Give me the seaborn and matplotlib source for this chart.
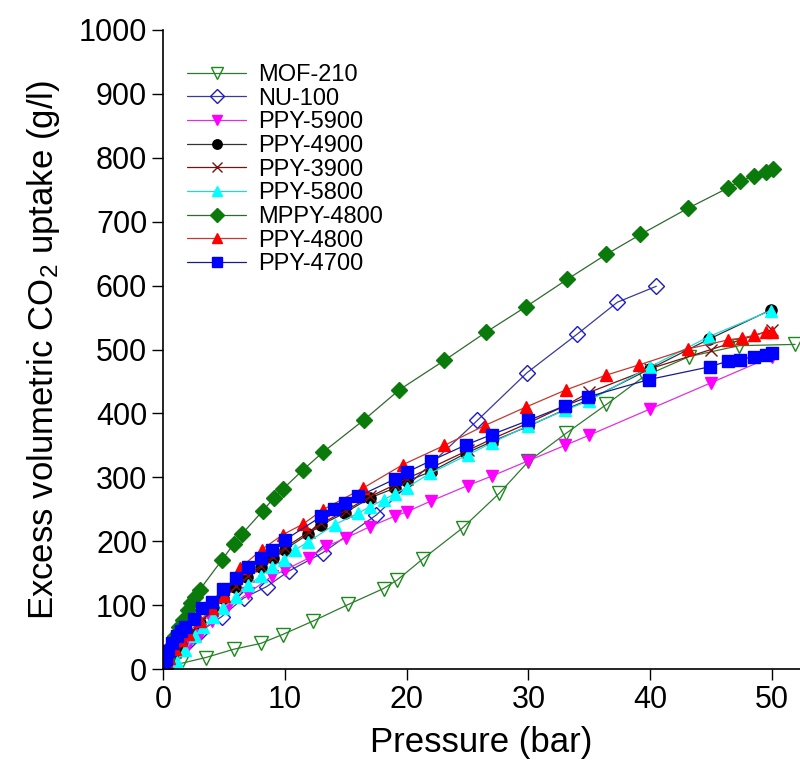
import pandas as pd
import seaborn as sns
import matplotlib.pyplot as plt

# CO2 uptake data (pressure in bar, uptake in g/l)
mof210_p = [0.3, 1.5, 3.5, 5.8, 8.0, 9.8, 12.3, 15.2, 18.1, 19.2, 21.3, 24.6, 27.6, 30.0, 33.1, 36.4, 39.5, 43.2, 47.3, 51.9]
mof210_u = [2, 9, 18, 31, 40, 54, 75, 101, 126, 139, 172, 221, 275, 325, 369, 414, 458, 489, 506, 508]

nu100_p = [0.1, 0.5, 1.0, 2.0, 3.0, 4.8, 6.6, 8.5, 10.3, 13.1, 17.5, 25.8, 29.9, 34.0, 37.3, 40.5]
nu100_u = [2, 12, 24, 42, 58, 82, 111, 129, 153, 182, 241, 389, 464, 524, 574, 599]

ppy5900_p = [0.1, 0.5, 1.0, 2.0, 3.0, 4.0, 5.2, 7.0, 8.9, 10.0, 12.0, 13.4, 15.0, 17.0, 19.0, 20.0, 22.0, 25.0, 27.0, 30.0, 33.0, 35.0, 40.0, 45.0, 50.0]
ppy5900_u = [2, 10, 20, 38, 55, 75, 95, 119, 145, 155, 174, 192, 205, 223, 239, 246, 263, 287, 302, 326, 350, 366, 407, 448, 489]

ppy4900_p = [0.1, 0.5, 1.0, 1.5, 2.2, 3.0, 4.1, 4.9, 5.9, 6.9, 8.0, 9.0, 10.0, 11.9, 13.0, 14.9, 17.0, 19.0, 20.0, 22.0, 24.9, 27.0, 30.0, 33.0, 35.0, 40.0, 44.8, 49.9]
ppy4900_u = [3, 12, 25, 38, 55, 72, 95, 111, 128, 144, 159, 173, 187, 211, 226, 244, 268, 283, 294, 309, 338, 356, 380, 406, 422, 470, 516, 562]

ppy3900_p = [0.1, 0.5, 1.0, 2.0, 3.0, 4.0, 5.0, 6.0, 7.0, 8.0, 9.0, 10.0, 12.0, 13.0, 15.0, 17.0, 19.0, 20.0, 22.0, 25.0, 27.0, 30.0, 33.0, 35.0, 40.0, 45.0, 50.0]
ppy3900_u = [3, 13, 27, 50, 72, 93, 112, 130, 146, 162, 176, 190, 215, 228, 248, 270, 288, 298, 315, 342, 360, 385, 412, 433, 470, 500, 531]

ppy5800_p = [0.2, 1.1, 1.8, 2.6, 3.3, 4.1, 4.9, 6.0, 7.0, 8.0, 8.9, 9.9, 10.8, 11.9, 14.1, 16.0, 17.0, 18.1, 19.0, 20.0, 21.9, 25.0, 27.0, 30.0, 33.0, 35.0, 40.0, 44.8, 49.9]
ppy5800_u = [2, 11, 30, 51, 66, 82, 95, 113, 132, 145, 159, 171, 186, 199, 226, 244, 254, 265, 274, 284, 306, 335, 354, 381, 405, 420, 473, 520, 561]

mppy4800_p = [0.05, 0.1, 0.2, 0.3, 0.5, 0.7, 1.0, 1.3, 1.6, 2.0, 2.3, 2.6, 3.0, 4.8, 5.8, 6.5, 8.2, 9.1, 9.8, 11.5, 13.1, 16.5, 19.4, 23.1, 26.5, 29.8, 33.2, 36.4, 39.2, 43.1, 46.4, 47.4, 48.5, 49.5, 50.1]
mppy4800_u = [3, 6, 12, 18, 28, 38, 52, 65, 77, 92, 103, 113, 124, 170, 196, 212, 248, 268, 281, 312, 339, 390, 437, 483, 527, 567, 610, 649, 680, 721, 753, 764, 771, 778, 782]

ppy4800_p = [0.1, 0.3, 0.5, 1.0, 1.5, 2.0, 3.0, 4.0, 5.0, 6.3, 8.1, 9.8, 11.5, 13.1, 16.4, 19.7, 23.1, 26.4, 29.8, 33.1, 36.4, 39.1, 43.1, 46.4, 47.5, 48.5, 49.5, 50.0]
ppy4800_u = [3, 10, 17, 32, 45, 55, 75, 95, 115, 158, 187, 210, 227, 249, 283, 320, 350, 381, 410, 437, 460, 476, 501, 515, 518, 522, 527, 527]

ppy4700_p = [0.05, 0.2, 0.4, 0.7, 1.1, 1.5, 1.8, 2.5, 3.2, 4.0, 4.9, 6.0, 7.0, 8.0, 8.9, 10.0, 13.0, 14.0, 14.9, 16.0, 19.0, 20.0, 22.0, 24.9, 27.0, 30.0, 33.0, 34.9, 39.9, 44.9, 46.4, 47.4, 48.5, 49.5, 50.0]
ppy4700_u = [5, 15, 28, 40, 51, 60, 66, 79, 95, 105, 125, 142, 159, 173, 187, 202, 239, 250, 260, 270, 297, 308, 326, 351, 367, 389, 412, 426, 453, 473, 482, 484, 489, 492, 494]

# name, pressure, uptake, line colour, marker, face colour, edge colour, marker size
series = [
    ('MOF-210', mof210_p, mof210_u, '#2f7a2f', 'v', 'none', '#1a8a1a', 10),
    ('NU-100', nu100_p, nu100_u, '#3a3a9a', 'D', 'none', '#1a1acc', 8),
    ('PPY-5900', ppy5900_p, ppy5900_u, '#e030e0', 'v', '#ff00ff', '#ff00ff', 9),
    ('PPY-4900', ppy4900_p, ppy4900_u, '#333333', 'o', 'black', 'black', 8),
    ('PPY-3900', ppy3900_p, ppy3900_u, '#7a1010', 'x', '#7a1010', '#7a1010', 8),
    ('PPY-5800', ppy5800_p, ppy5800_u, '#20d8d8', '^', '#00ffff', '#00ffff', 9),
    ('MPPY-4800', mppy4800_p, mppy4800_u, '#2f6a2f', 'D', '#0a7a0a', '#0a7a0a', 8),
    ('PPY-4800', ppy4800_p, ppy4800_u, '#c03a30', '^', '#ff0000', '#ff0000', 9),
    ('PPY-4700', ppy4700_p, ppy4700_u, '#1a1a90', 's', '#0000ff', '#0000ff', 9),
]

sns.set_style('ticks')
plt.rcParams['font.family'] = ['Liberation Sans', 'DejaVu Sans']
plt.rcParams['mathtext.default'] = 'regular'
plt.rcParams['text.color'] = 'black'
plt.rcParams['axes.labelcolor'] = 'black'
plt.rcParams['xtick.color'] = 'black'
plt.rcParams['ytick.color'] = 'black'
plt.rcParams['axes.edgecolor'] = 'black'

fig = plt.figure(figsize=(8, 7.69), dpi=100)
ax = fig.add_axes([0.204, 0.130, 0.796, 0.831])

for name, p, u, lc, mk, fc, ec, ms in series:
    df = pd.DataFrame({'p': p, 'u': u})
    sns.lineplot(data=df, x='p', y='u', ax=ax, sort=False, color=lc, linewidth=0.9,
                 marker=mk, markersize=ms, markerfacecolor=fc, markeredgecolor=ec,
                 markeredgewidth=1.0, label=name)

ax.set_xlim(0, 52.3)
ax.set_ylim(0, 1000)
ax.set_xticks([0, 10, 20, 30, 40, 50])
ax.set_yticks(range(0, 1001, 100))
ax.tick_params(labelsize=22, length=8, width=1, direction='out')
ax.spines['top'].set_visible(False)
ax.spines['right'].set_visible(False)
ax.spines['left'].set_linewidth(1.2)
ax.spines['bottom'].set_linewidth(1.2)
ax.set_xlabel('Pressure (bar)', fontsize=25, labelpad=8)
ax.set_ylabel('Excess volumetric CO$_2$ uptake (g/l)', fontsize=25, labelpad=12)

ax.legend(loc='upper left', bbox_to_anchor=(0.004, 0.98), frameon=False, fontsize=17,
          handlelength=2.5, labelspacing=0.07, markerscale=0.85, handletextpad=0.5)

plt.savefig('out.png', dpi=100)
